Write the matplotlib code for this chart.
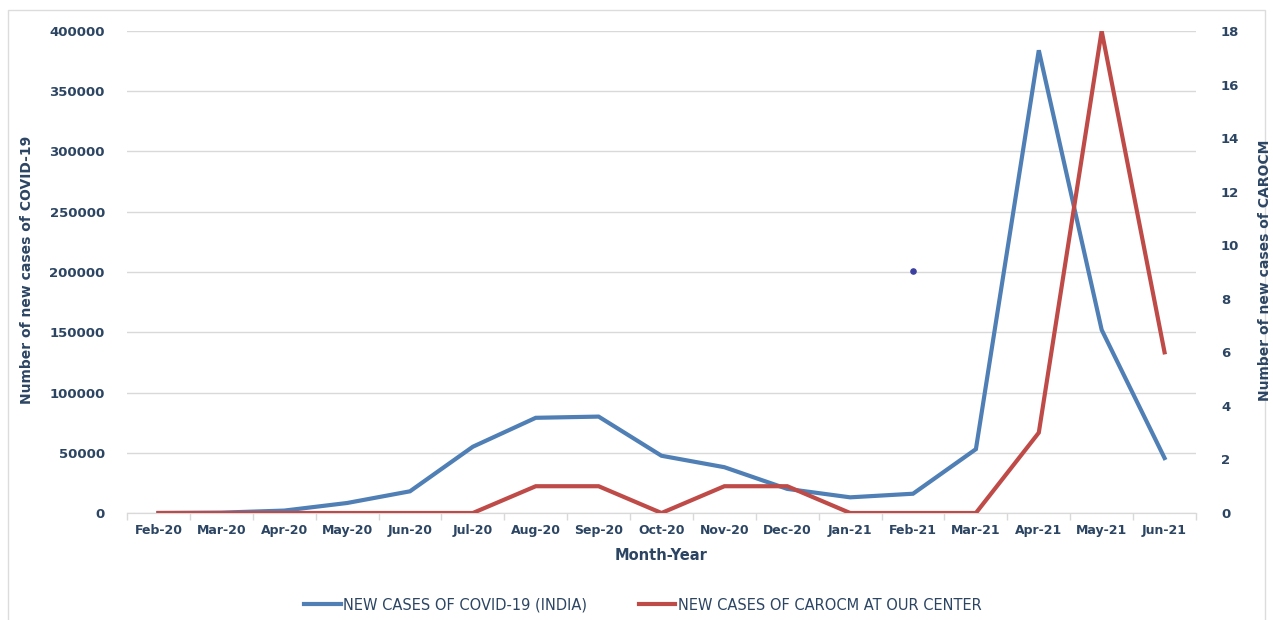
import matplotlib
matplotlib.use('Agg')
import matplotlib.pyplot as plt
import matplotlib.patches as patches
import numpy as np

months = ['Feb-20', 'Mar-20', 'Apr-20', 'May-20', 'Jun-20', 'Jul-20', 'Aug-20', 'Sep-20',
          'Oct-20', 'Nov-20', 'Dec-20', 'Jan-21', 'Feb-21', 'Mar-21', 'Apr-21', 'May-21', 'Jun-21']
india_cases = [0, 300, 2000, 8300, 18000, 55000, 79000, 80000,
               47500, 38000, 20000, 13000, 16000, 53000, 384000, 152000, 45600]
carocm_cases = [0, 0, 0, 0, 0, 0, 1, 1, 0, 1, 1, 0, 0, 0, 3, 18, 6]
# stray point visible in the original figure
stray_month = 'Feb-21'
stray_value = 201000

BLUE = '#4f7fb5'
RED = '#be4b48'
TXT = '#2c4563'
GRID = '#d9d9d9'

fig = plt.figure(figsize=(12.73, 6.2), dpi=100)
fig.patches.append(patches.Rectangle((8/1273, -0.1), 1 - 16/1273, 1.1 - 10/620,
                                     transform=fig.transFigure, fill=False,
                                     edgecolor='#dcdcdc', linewidth=1))

ax = fig.add_axes([127/1273, 1 - 513/620, (1196 - 127)/1273, (513 - 31)/620])
ax2 = ax.twinx()

x = np.arange(len(months))
ax.plot(x, india_cases, color=BLUE, linewidth=3, solid_joinstyle='miter', zorder=3)
ax.scatter([months.index(stray_month)], [stray_value], s=14, color='#3b3fa0', zorder=4)
ax2.plot(x, carocm_cases, color=RED, linewidth=3, solid_joinstyle='miter', zorder=3)

ax.set_xlim(-0.5, len(months) - 0.5)
ax.set_ylim(0, 400000)
ax2.set_ylim(0, 18)
ax.set_yticks(np.arange(0, 400001, 50000))
ax2.set_yticks(np.arange(0, 19, 2))
ax.yaxis.grid(True, color=GRID, linewidth=1)
ax.set_axisbelow(True)

ax.set_xticks(x)
ax.set_xticklabels(months)
ax.set_xticks(np.arange(-0.5, len(months), 1), minor=True)
ax.tick_params(axis='x', which='major', length=0, pad=8)
ax.tick_params(axis='x', which='minor', length=5, color=GRID, width=1)
ax.tick_params(axis='y', length=0, pad=16)
ax2.tick_params(axis='y', length=0, pad=18)

for a in (ax, ax2):
    for s in ('top', 'left', 'right'):
        a.spines[s].set_visible(False)
    a.spines['bottom'].set_color(GRID)
    for lab in a.get_yticklabels():
        lab.set_color(TXT)
        lab.set_fontsize(9.5)
        lab.set_fontweight('bold')
for lab in ax.get_xticklabels():
    lab.set_color(TXT)
    lab.set_fontsize(9)
    lab.set_fontweight('bold')

ax.set_xlabel('Month-Year', color=TXT, fontsize=10.5, fontweight='bold', labelpad=8)
fig.text(27/1273, 1 - 270/620, 'Number of new cases of COVID-19', color=TXT, fontsize=10,
         fontweight='bold', rotation=90, ha='center', va='center')
fig.text(1265/1273, 1 - 270/620, 'Number of new cases of CAROCM', color=TXT, fontsize=10,
         fontweight='bold', rotation=90, ha='center', va='center')

handles = [plt.Line2D([], [], color=BLUE, linewidth=3),
           plt.Line2D([], [], color=RED, linewidth=3)]
leg = fig.legend(handles, ['NEW CASES OF COVID-19 (INDIA)', 'NEW CASES OF CAROCM AT OUR CENTER'],
                 loc='center', bbox_to_anchor=(0.505, 1 - 605/620), ncol=2, frameon=False,
                 handlelength=2.5, handletextpad=0.2, columnspacing=3.5,
                 prop={'size': 10.5})
for t in leg.get_texts():
    t.set_color(TXT)

fig.savefig('out.png', dpi=100)
